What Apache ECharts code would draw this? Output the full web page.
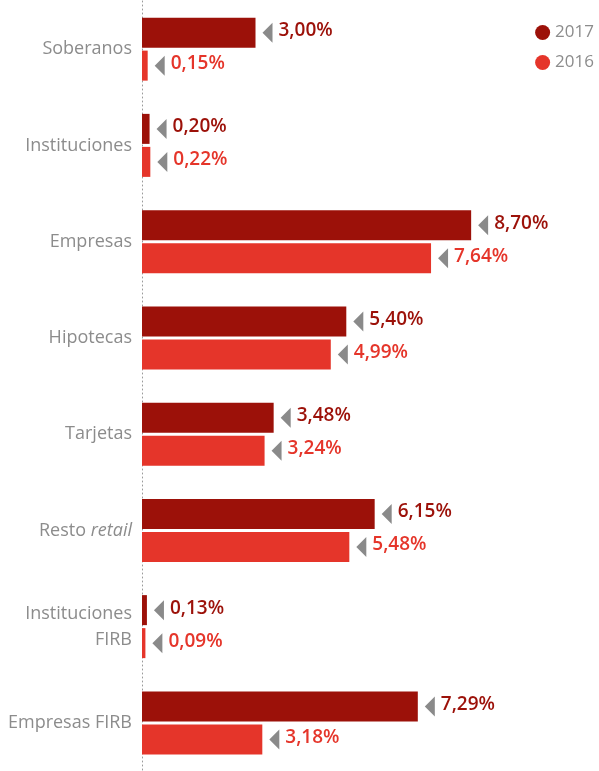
<!DOCTYPE html>
<html>
<head>
<meta charset="utf-8">
<style>
  html, body { margin: 0; padding: 0; background: #ffffff; }
  #chart { width: 599px; height: 771px; }
</style>
<script src="https://cdn.jsdelivr.net/npm/echarts@6/dist/echarts.min.js"></script>
</head>
<body>
<div id="chart"></div>
<script>
// Portfolio categories (top to bottom)
const categories = ['Soberanos', 'Instituciones', 'Empresas', 'Hipotecas', 'Tarjetas', 'Resto retail', 'Instituciones\nFIRB', 'Empresas FIRB'];
// Percentages per year
const values2017 = [3.00, 0.20, 8.70, 5.40, 3.48, 6.15, 0.13, 7.29];
const values2016 = [0.15, 0.22, 7.64, 4.99, 3.24, 5.48, 0.09, 3.18];
const seriesNames = ['2017', '2016'];

const COLOR_2017 = '#9c1109';
const COLOR_2016 = '#e5352a';
const GREY = '#8c8c8c';
const FONT = '"Open Sans", "DejaVu Sans", sans-serif';

const BAR_W = 30;
const BAR_GAP = 3;
const MARKER_GAP = 7;   // space between bar end and marker
const MARKER_W = 10;
const MARKER_H = 20;

function fmtPct(v) {
  return v.toFixed(2).replace('.', ',') + '%';
}

function valueLabel(color) {
  return {
    show: true,
    position: 'right',
    distance: MARKER_GAP + MARKER_W + 6,
    offset: [0, -2],
    formatter: p => fmtPct(p.value),
    color: color,
    fontFamily: FONT,
    fontSize: 19,
    fontWeight: 600
  };
}

// Grey left-pointing marker placed just past the end of each bar
function markerSeries(values, dy) {
  return {
    name: 'marker' + dy,
    type: 'scatter',
    silent: true,
    z: 3,
    data: values.map((v, i) => [v, i]),
    symbol: 'path://M10,0 L10,20 L0,10 Z',
    symbolSize: [MARKER_W, MARKER_H],
    symbolOffset: [MARKER_GAP + MARKER_W / 2, dy],
    itemStyle: { color: '#8a8a8a', opacity: 1 }
  };
}

const chart = echarts.init(document.getElementById('chart'), null, { renderer: 'canvas' });

chart.setOption({
  animation: false,
  backgroundColor: '#ffffff',
  grid: { left: 142, top: 1, height: 770, width: 454, containLabel: false },
  legend: {
    data: seriesNames,
    orient: 'vertical',
    right: 0,
    top: 19,
    icon: 'circle',
    itemWidth: 15,
    itemHeight: 15,
    itemGap: 13,
    textStyle: { color: GREY, fontFamily: FONT, fontSize: 17 }
  },
  xAxis: {
    type: 'value',
    min: 0,
    max: 12,
    show: false
  },
  yAxis: {
    type: 'category',
    data: categories,
    inverse: true,
    axisTick: { show: false },
    axisLine: {
      show: true,
      lineStyle: { color: '#9a9a9a', type: [1, 3], width: 1 }
    },
    axisLabel: {
      margin: 10,
      color: GREY,
      fontFamily: FONT,
      fontSize: 18,
      lineHeight: 26,
      align: 'right',
      formatter: v => v === 'Resto retail' ? 'Resto {i|retail}' : v,
      rich: {
        i: { fontStyle: 'italic', color: GREY, fontFamily: FONT, fontSize: 18 }
      }
    }
  },
  series: [
    {
      name: seriesNames[0],
      type: 'bar',
      data: values2017,
      barWidth: BAR_W,
      barGap: (BAR_GAP / BAR_W * 100) + '%',
      itemStyle: { color: COLOR_2017 },
      label: valueLabel(COLOR_2017)
    },
    {
      name: seriesNames[1],
      type: 'bar',
      data: values2016,
      barWidth: BAR_W,
      barGap: (BAR_GAP / BAR_W * 100) + '%',
      itemStyle: { color: COLOR_2016 },
      label: valueLabel(COLOR_2016)
    },
    markerSeries(values2017, -(BAR_W + BAR_GAP) / 2),
    markerSeries(values2016, (BAR_W + BAR_GAP) / 2)
  ]
});
</script>
</body>
</html>
